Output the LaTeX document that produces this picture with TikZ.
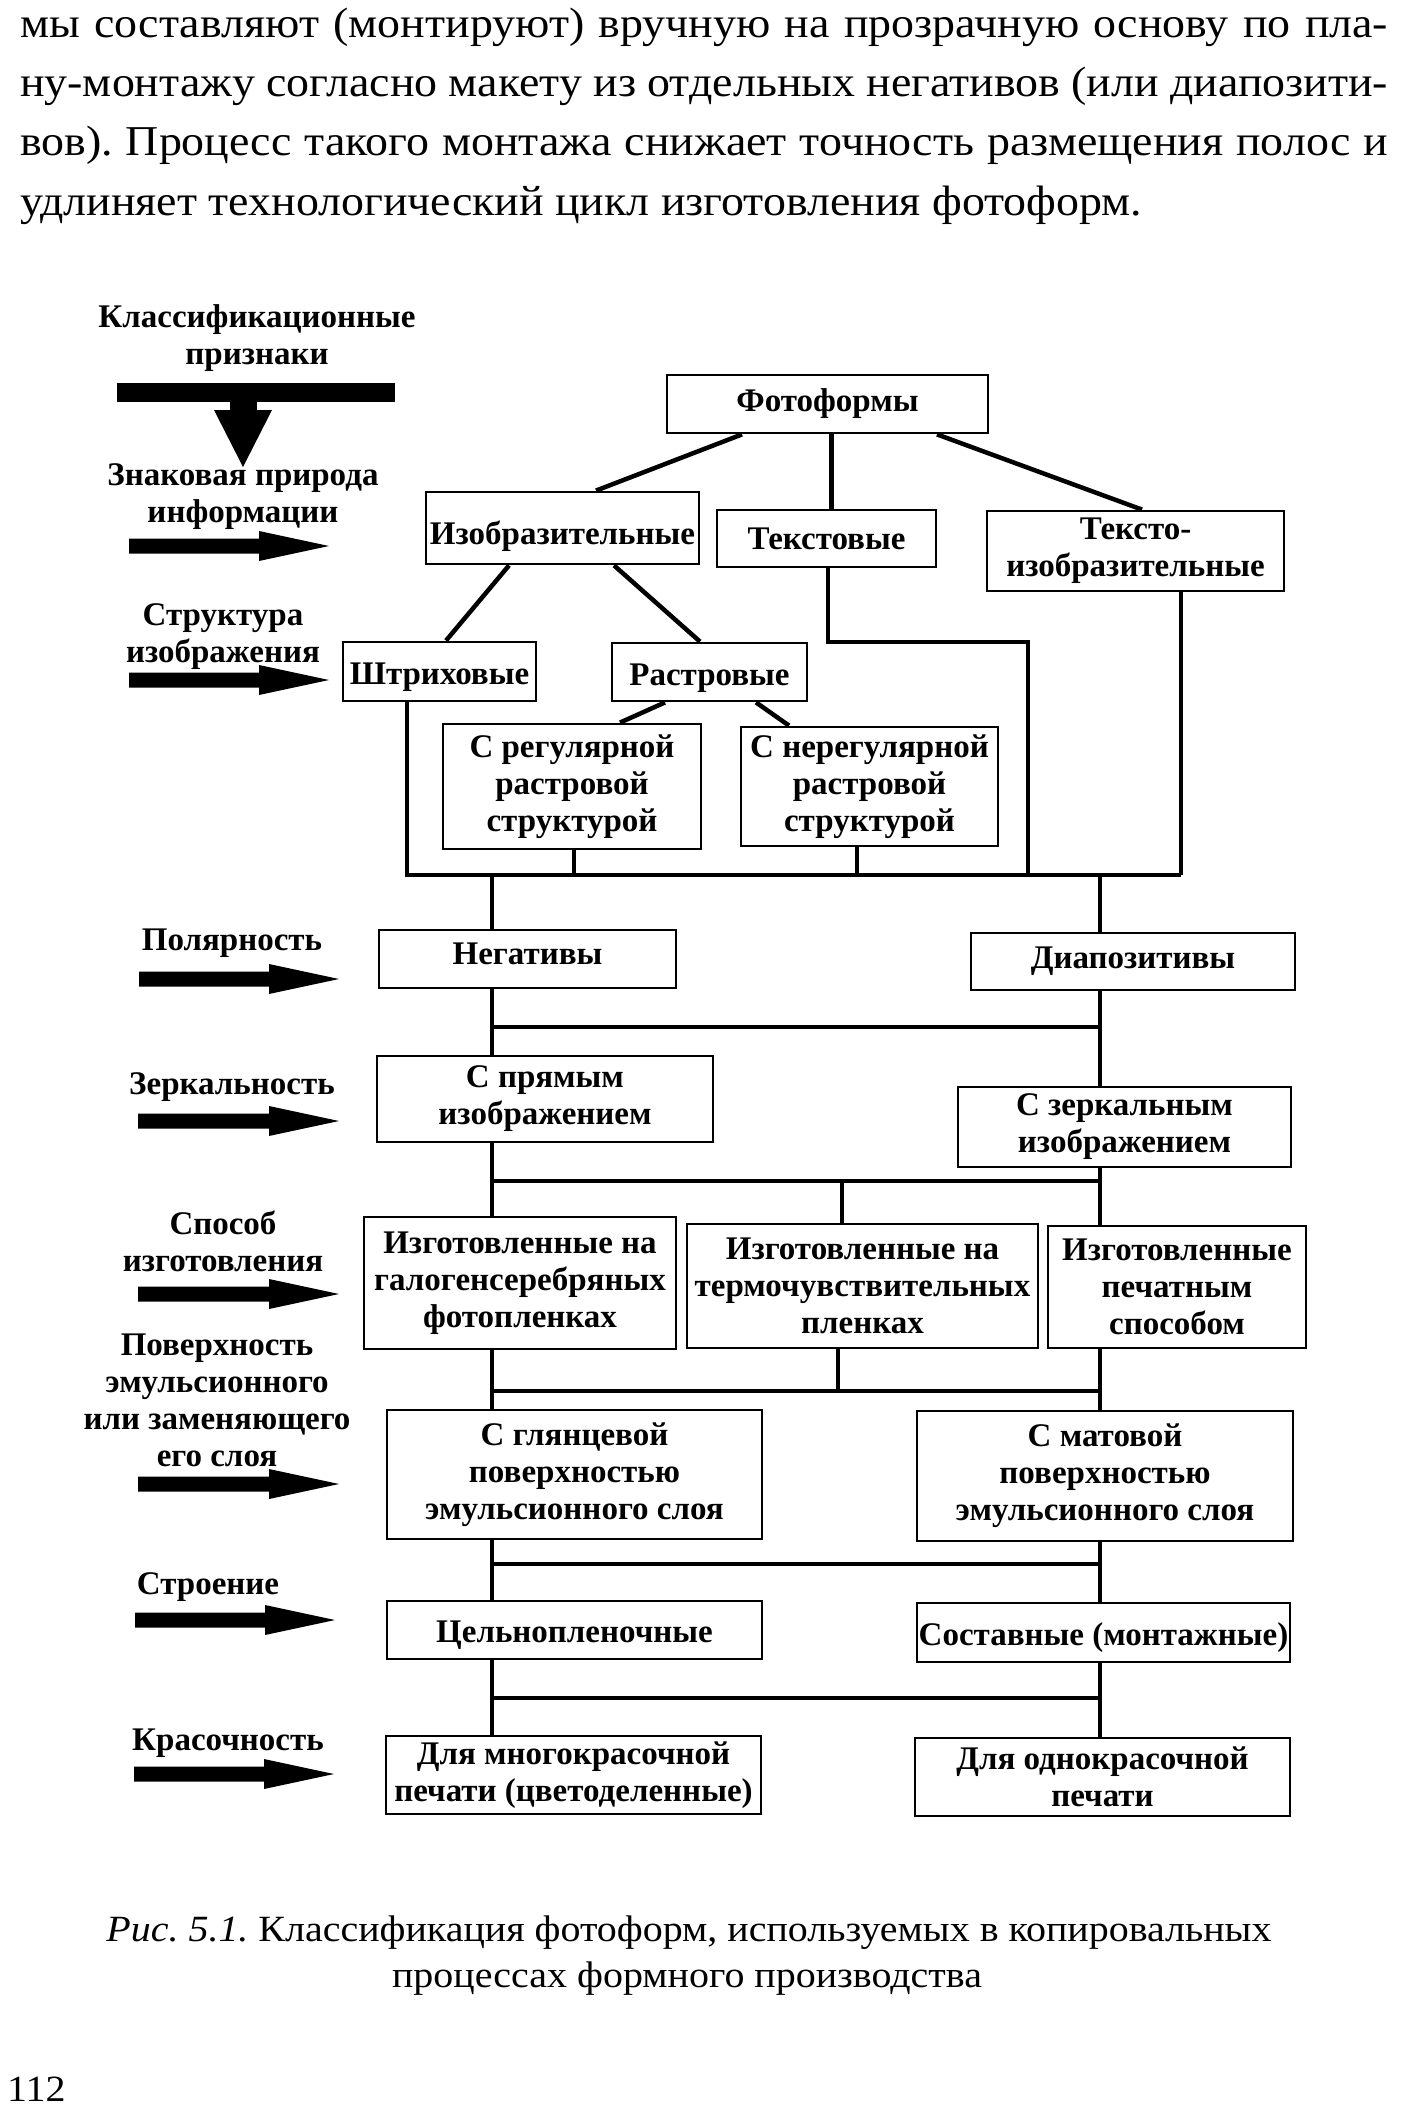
\documentclass[tikz,border=0pt]{standalone}
\usepackage{fontspec}
\setmainfont{Liberation Serif}
\newfontfamily\widefont[FakeStretch=1.08]{Liberation Serif}
\usetikzlibrary{calc}
\frenchspacing
\newcommand\boxfont{\fontsize{33}{37}\selectfont\bfseries}
\newcommand\parafont{\widefont\fontsize{42.5}{59}\selectfont}
\newcommand\capfont{\widefont\fontsize{37}{46}\selectfont}
\newcommand\dn[2]{\raisebox{-#1}[\height][\depth]{#2}}
\newcommand\fatarrow[3]{% start x, tip x, centre y
  \fill ({#1},{#3-7.5}) -- ({#2-70},{#3-7.5}) -- ({#2-70},{#3-15}) -- ({#2},{#3})
        -- ({#2-70},{#3+15}) -- ({#2-70},{#3+7.5}) -- ({#1},{#3+7.5}) -- cycle;}
\begin{document}
\begin{tikzpicture}[x=1pt,y=-1pt,
  box/.style={draw, line width=2.8pt, inner sep=0pt, align=center, font=\boxfont},
  conn/.style={line width=4.5pt, line join=miter},
  lbl/.style={inner sep=0pt, align=center, font=\boxfont},
  para/.style={anchor=base west, inner sep=0pt, font=\parafont},
  capt/.style={anchor=base, inner sep=0pt, font=\capfont}]
\fill[white] (0,0) rectangle (1400,2114);
\useasboundingbox (0,0) rectangle (1400,2114);

% paragraph
\node[para] (p1) at (20,38) {\makebox[1368pt][s]{мы составляют (монтируют) вручную на прозрачную основу по пла-}};
\node[para] (p2) at (20,97) {\makebox[1368pt][s]{ну-монтажу согласно макету из отдельных негативов (или диапозити-}};
\node[para] (p3) at (20,156) {\makebox[1368pt][s]{вов). Процесс такого монтажа снижает точность размещения полос и}};
\node[para] (p4) at (20,215) {удлиняет технологический цикл изготовления фотоформ.};

% left legend
\node[lbl] (cls) at (257,338) {Классификационные\\признаки};
\fill (117,383) rectangle (395,402);
\fill (230,401) rectangle (257,411);
\fill (214,410) -- (272,410) -- (243,467) -- cycle;
\node[lbl] (znak) at (243,497) {Знаковая природа\\информации};
\fatarrow{129}{329}{546}
\node[lbl] (strukt) at (223,637) {Структура\\изображения};
\fatarrow{129}{329}{680}
\node[lbl] (polar) at (232,943) {Полярность};
\fatarrow{139}{339}{979}
\node[lbl] (zerkal) at (232,1087) {Зеркальность};
\fatarrow{138}{339}{1121}
\node[lbl] (sposob) at (223,1241) {Способ\\изготовления};
\fatarrow{138}{339}{1294}
\node[lbl] (poverh) at (217,1400) {Поверхность\\эмульсионного\\или заменяющего\\его слоя};
\fatarrow{138}{339}{1484}
\node[lbl] (stroen) at (208,1587) {Строение};
\fatarrow{135}{335}{1620}
\node[lbl] (krasoch) at (228,1743) {Красочность};
\fatarrow{134}{334}{1774}

% boxes
\node[box, minimum width=321pt, minimum height=58pt] (foto) at (827.5,404) {Фотоформы};
\node[box, minimum width=273pt, minimum height=72pt] (izo) at (562.5,528) {\dn{8pt}{Изобразительные}};
\node[box, minimum width=219pt, minimum height=57pt] (text) at (826.5,538.5) {Текстовые};
\node[box, minimum width=297pt, minimum height=80pt] (textizo) at (1135.5,551) {Тексто-\\изобразительные};
\node[box, minimum width=193pt, minimum height=59pt] (shtrih) at (439.5,671.5) {\dn{6pt}{Штриховые}};
\node[box, minimum width=195pt, minimum height=58pt] (rastr) at (709.5,672) {\dn{6pt}{Растровые}};
\node[box, minimum width=258pt, minimum height=125pt] (reg) at (572,786.5) {С регулярной\\растровой\\структурой};
\node[box, minimum width=257pt, minimum height=119pt] (nereg) at (869.5,786.5) {С нерегулярной\\растровой\\структурой};
\node[box, minimum width=297pt, minimum height=58pt] (neg) at (527.5,959) {\dn{-5pt}{Негативы}};
\node[box, minimum width=324pt, minimum height=57pt] (diapo) at (1133,961.5) {Диапозитивы};
\node[box, minimum width=336pt, minimum height=86pt] (pryam) at (545,1099) {С прямым\\изображением};
\node[box, minimum width=333pt, minimum height=80pt] (zerk) at (1124.5,1127) {С зеркальным\\изображением};
\node[box, minimum width=312pt, minimum height=132pt] (galo) at (520,1283) {Изготовленные на\\галогенсеребряных\\фотопленках};
\node[box, minimum width=351pt, minimum height=124pt] (termo) at (862.5,1286) {Изготовленные на\\термочувствительных\\пленках};
\node[box, minimum width=258pt, minimum height=122pt] (pech) at (1177,1287) {Изготовленные\\печатным\\способом};
\node[box, minimum width=375pt, minimum height=129pt] (glyan) at (574.5,1474.5) {С глянцевой\\поверхностью\\эмульсионного слоя};
\node[box, minimum width=376pt, minimum height=130pt] (mat) at (1105,1476) {С матовой\\поверхностью\\эмульсионного слоя};
\node[box, minimum width=375pt, minimum height=58pt] (celno) at (574.5,1630) {\dn{5pt}{Цельнопленочные}};
\node[box, minimum width=373pt, minimum height=59pt] (sostav) at (1103.5,1632.5) {\dn{5pt}{Составные (монтажные)}};
\node[box, minimum width=375pt, minimum height=78pt] (mnogo) at (573.5,1775) {Для многокрасочной\\печати (цветоделенные)};
\node[box, minimum width=375pt, minimum height=78pt] (odno) at (1102.5,1777) {Для однокрасочной\\печати};

% bus coordinates
\coordinate (b1) at (1181,875);
\coordinate (t1) at (1028,642);
\coordinate (b2) at (1100,1027);
\coordinate (b3) at (1100,1181);
\coordinate (b4) at (1100,1391);
\coordinate (b5) at (1100,1564);
\coordinate (b6) at (1100,1698);

% tree connectors
\draw[conn] ([xshift=-85.5pt]foto.south) -- ([xshift=33.5pt]izo.north);
\draw[conn] ([xshift=4pt]foto.south) -- ([xshift=5pt]text.north);
\draw[conn] ([xshift=109.5pt]foto.south) -- ([xshift=6.5pt]textizo.north);
\draw[conn] ([xshift=-53.5pt]izo.south) -- ([xshift=6.5pt]shtrih.north);
\draw[conn] ([xshift=51.5pt]izo.south) -- ([xshift=-9.5pt]rastr.north);
\draw[conn] ([xshift=-44.5pt]rastr.south) -- ([xshift=48pt]reg.north);
\draw[conn] ([xshift=46.5pt]rastr.south) -- ([xshift=-80.5pt]nereg.north);

% bus 1
\draw[conn] ([xshift=-32.5pt]shtrih.south) |- (b1);
\draw[conn] ([xshift=2pt]reg.south) |- (b1);
\draw[conn] ([xshift=-12.5pt]nereg.south) |- (b1);
\draw[conn] ([xshift=1.5pt]text.south) |- (t1) |- (b1);
\draw[conn] ([xshift=45.5pt]textizo.south) -- (b1);
\draw[conn] ([xshift=-35.5pt]neg.north) |- (b1);
\draw[conn] ([xshift=-33pt]diapo.north) |- (b1);

% bus 2
\draw[conn] ([xshift=-35.5pt]neg.south) -- ([xshift=-53pt]pryam.north);
\draw[conn] ([xshift=-35.5pt]neg.south) |- (b2);
\draw[conn] ([xshift=-33pt]diapo.south) -- ([xshift=-24.5pt]zerk.north);

% bus 3
\draw[conn] ([xshift=-53pt]pryam.south) -- ([xshift=-28pt]galo.north);
\draw[conn] ([xshift=-53pt]pryam.south) |- (b3);
\draw[conn] ([xshift=-24.5pt]zerk.south) -- ([xshift=-77pt]pech.north);
\draw[conn] ([xshift=-20.5pt]termo.north) |- (b3);

% bus 4
\draw[conn] ([xshift=-28pt]galo.south) -- ([xshift=-82.5pt]glyan.north);
\draw[conn] ([xshift=-28pt]galo.south) |- (b4);
\draw[conn] ([xshift=-24.5pt]termo.south) |- (b4);
\draw[conn] ([xshift=-77pt]pech.south) -- ([xshift=-5pt]mat.north);

% bus 5
\draw[conn] ([xshift=-82.5pt]glyan.south) -- ([xshift=-82.5pt]celno.north);
\draw[conn] ([xshift=-82.5pt]glyan.south) |- (b5);
\draw[conn] ([xshift=-5pt]mat.south) -- ([xshift=-3.5pt]sostav.north);

% bus 6
\draw[conn] ([xshift=-82.5pt]celno.south) -- ([xshift=-81.5pt]mnogo.north);
\draw[conn] ([xshift=-82.5pt]celno.south) |- (b6);
\draw[conn] ([xshift=-3.5pt]sostav.south) -- ([xshift=-2.5pt]odno.north);

% caption and page number
\node[capt] (cap1) at (689,1941) {\textit{Рис. 5.1.} Классификация фотоформ, используемых в копировальных};
\node[capt] (cap2) at (687,1987) {процессах формного производства};
\node[anchor=base west, inner sep=0pt, font=\capfont] (pg) at (7,2101) {112};
\end{tikzpicture}
\end{document}
